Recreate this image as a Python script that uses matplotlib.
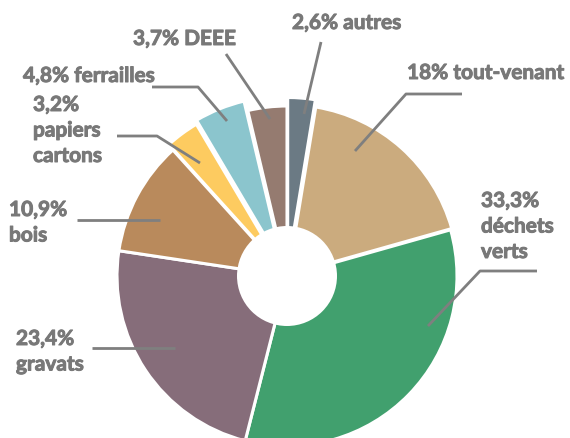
import numpy as np
import matplotlib.pyplot as plt
import matplotlib.patheffects as pe
from matplotlib.patches import Circle

# share of each waste stream (%), clockwise from the top
categories = ['autres', 'tout-venant', 'déchets\nverts', 'gravats', 'bois',
              'papiers\ncartons', 'ferrailles', 'DEEE']
values = [2.6, 18, 33.3, 23.4, 10.9, 3.2, 4.8, 3.7]
value_labels = ['2,6%', '18%', '33,3%', '23,4%', '10,9%', '3,2%', '4,8%', '3,7%']
colors = ['#6b7a84', '#cbab7e', '#41a06e', '#866d7a', '#b98a5c',
          '#fdcb60', '#8bc5cd', '#957b70']
explode = [0.05, 0.01, 0, 0, 0, 0.04, 0.06, 0]

W, H = 570, 439
CX, CY, R = 287, 277, 170   # pie centre / radius in pixels


def px(x, y):
    # pixel position (from top-left) -> data coords
    return ((x - CX) / R, (CY - y) / R)


fig = plt.figure(figsize=(W / 100, H / 100), dpi=100)
ax = fig.add_axes([0, 0, 1, 1])

ax.pie(values, colors=colors, startangle=90, counterclock=False,
       explode=explode, radius=1.0,
       wedgeprops=dict(edgecolor='white', linewidth=2.2))
ax.add_patch(Circle((0, 0), 50 / R, facecolor='white', edgecolor='none', zorder=5))

ax.set_xlim(-CX / R, (W - CX) / R)
ax.set_ylim(-(H - CY) / R, CY / R)
ax.set_aspect('equal')
ax.axis('off')

# leader lines (pixel layout) and label anchors (left x, first line centre y)
leaders = [
    [(304, 115), (321, 43)],
    [(355, 152), (406, 95), (462, 95)],
    [(428, 327), (480, 272), (537, 272)],
    [(92, 349), (175, 349)],
    [(77, 221), (160, 221)],
    [(200, 164), (157, 137), (117, 137)],
    [(227, 122), (198, 88), (152, 88)],
    [(270, 120), (226, 55)],
]
text_pos = [(292, 22), (407, 72), (481, 200), (16, 338), (9, 209),
            (33, 104), (23, 75), (133, 38)]
line_gap = 25.5

line_col = '#7f7f7f'
text_col = '#787878'
for i, cat in enumerate(categories):
    pts = [px(*p) for p in leaders[i]]
    ax.plot([p[0] for p in pts], [p[1] for p in pts], color=line_col,
            lw=2.0, solid_capstyle='butt', zorder=6)
    if '\n' in cat or cat == 'bois' or cat == 'gravats':
        lines = [value_labels[i]] + cat.split('\n')
    else:
        lines = [value_labels[i] + ' ' + cat]
    x0, y0 = text_pos[i]
    for k, s in enumerate(lines):
        tx, ty = px(x0, y0 + k * line_gap)
        ax.text(tx, ty, s, ha='left', va='center_baseline', fontsize=15,
                family='Lato', fontweight='bold', color=text_col,
                path_effects=[pe.withStroke(linewidth=0.7, foreground=text_col)])

fig.savefig('out.png', dpi=100)
